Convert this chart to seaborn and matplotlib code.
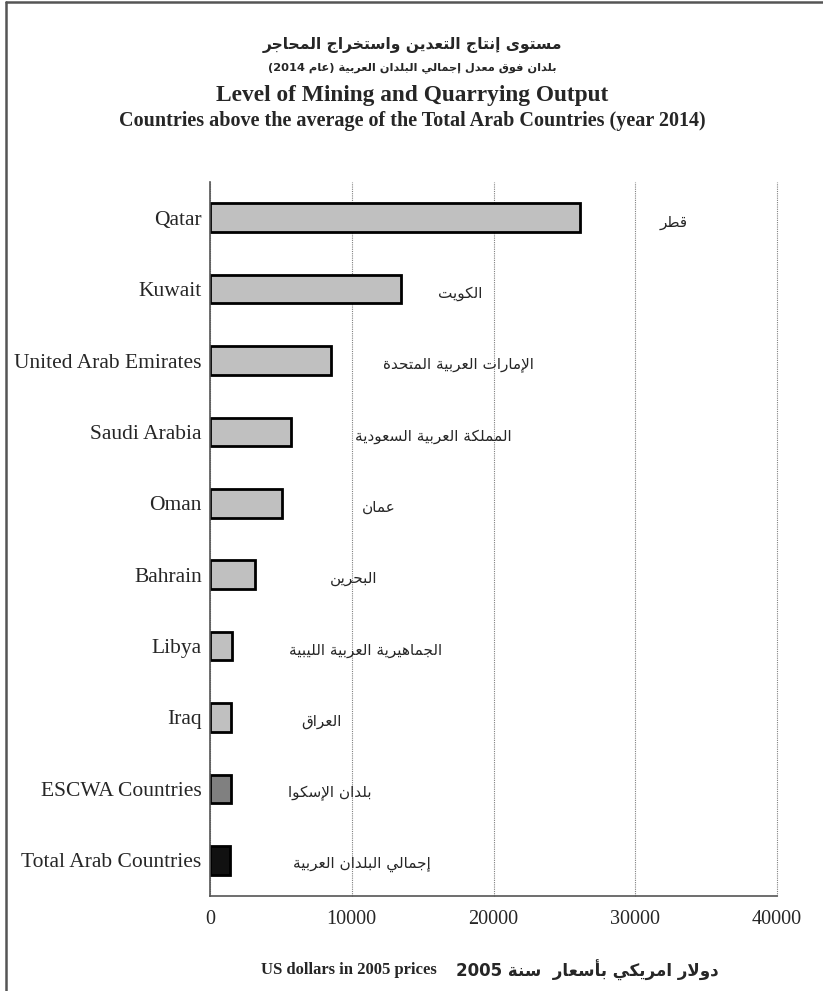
import re
import matplotlib
matplotlib.use("Agg")
import matplotlib.pyplot as plt
from matplotlib.lines import Line2D
import seaborn as sns

# data
countries = ["Qatar", "Kuwait", "United Arab Emirates", "Saudi Arabia", "Oman",
             "Bahrain", "Libya", "Iraq", "ESCWA Countries", "Total Arab Countries"]
countries_ar = ["قطر", "الكويت", "الإمارات العربية المتحدة", "المملكة العربية السعودية",
                "عمان", "البحرين", "الجماهيرية العربية الليبية", "العراق",
                "بلدان الإسكوا", "إجمالي البلدان العربية"]
output = [26100, 13500, 8500, 5700, 5050, 3150, 1550, 1500, 1490, 1400]
bar_colors = ["#C0C0C0"] * 8 + ["#808080", "#111111"]
x_ticks = [0, 10000, 20000, 30000, 40000]

# where the arabic names sit (data x units)
label_x = [32700, 17640, 17500, 15730, 11920, 10160, 11000, 7830, 8470, 10720]

# ---- minimal arabic shaping (presentation forms B) ----
FORMS = {
    "ء": (0xFE80,), "آ": (0xFE81, 0xFE82), "أ": (0xFE83, 0xFE84), "ؤ": (0xFE85, 0xFE86),
    "إ": (0xFE87, 0xFE88), "ئ": (0xFE89, 0xFE8A, 0xFE8B, 0xFE8C), "ا": (0xFE8D, 0xFE8E),
    "ب": (0xFE8F, 0xFE90, 0xFE91, 0xFE92), "ة": (0xFE93, 0xFE94),
    "ت": (0xFE95, 0xFE96, 0xFE97, 0xFE98), "ث": (0xFE99, 0xFE9A, 0xFE9B, 0xFE9C),
    "ج": (0xFE9D, 0xFE9E, 0xFE9F, 0xFEA0), "ح": (0xFEA1, 0xFEA2, 0xFEA3, 0xFEA4),
    "خ": (0xFEA5, 0xFEA6, 0xFEA7, 0xFEA8), "د": (0xFEA9, 0xFEAA), "ذ": (0xFEAB, 0xFEAC),
    "ر": (0xFEAD, 0xFEAE), "ز": (0xFEAF, 0xFEB0), "س": (0xFEB1, 0xFEB2, 0xFEB3, 0xFEB4),
    "ش": (0xFEB5, 0xFEB6, 0xFEB7, 0xFEB8), "ص": (0xFEB9, 0xFEBA, 0xFEBB, 0xFEBC),
    "ض": (0xFEBD, 0xFEBE, 0xFEBF, 0xFEC0), "ط": (0xFEC1, 0xFEC2, 0xFEC3, 0xFEC4),
    "ظ": (0xFEC5, 0xFEC6, 0xFEC7, 0xFEC8), "ع": (0xFEC9, 0xFECA, 0xFECB, 0xFECC),
    "غ": (0xFECD, 0xFECE, 0xFECF, 0xFED0), "ف": (0xFED1, 0xFED2, 0xFED3, 0xFED4),
    "ق": (0xFED5, 0xFED6, 0xFED7, 0xFED8), "ك": (0xFED9, 0xFEDA, 0xFEDB, 0xFEDC),
    "ل": (0xFEDD, 0xFEDE, 0xFEDF, 0xFEE0), "م": (0xFEE1, 0xFEE2, 0xFEE3, 0xFEE4),
    "ن": (0xFEE5, 0xFEE6, 0xFEE7, 0xFEE8), "ه": (0xFEE9, 0xFEEA, 0xFEEB, 0xFEEC),
    "و": (0xFEED, 0xFEEE), "ى": (0xFEEF, 0xFEF0), "ي": (0xFEF1, 0xFEF2, 0xFEF3, 0xFEF4),
}
LAM_ALEF = {"آ": (0xFEF5, 0xFEF6), "أ": (0xFEF7, 0xFEF8), "إ": (0xFEF9, 0xFEFA), "ا": (0xFEFB, 0xFEFC)}
MIRROR = {"(": ")", ")": "("}


def shape(text):
    # merge lam + alef first
    units = []
    i = 0
    while i < len(text):
        c = text[i]
        if c == "ل" and i + 1 < len(text) and text[i + 1] in LAM_ALEF:
            units.append(("LA", text[i + 1]))
            i += 2
        else:
            units.append(("C", c))
            i += 1

    def dual(u):
        return u[0] == "C" and u[1] in FORMS and len(FORMS[u[1]]) == 4

    def arabic(u):
        return u[0] == "LA" or u[1] in FORMS

    out = []
    for k, u in enumerate(units):
        prev_j = k > 0 and dual(units[k - 1])
        next_j = k + 1 < len(units) and arabic(units[k + 1])
        if u[0] == "LA":
            f = LAM_ALEF[u[1]]
            out.append(chr(f[1] if prev_j else f[0]))
        elif u[1] in FORMS:
            f = FORMS[u[1]]
            if len(f) == 4:
                if prev_j and next_j:
                    out.append(chr(f[3]))
                elif prev_j:
                    out.append(chr(f[1]))
                elif next_j:
                    out.append(chr(f[2]))
                else:
                    out.append(chr(f[0]))
            elif len(f) == 2:
                out.append(chr(f[1] if prev_j else f[0]))
            else:
                out.append(chr(f[0]))
        else:
            out.append(u[1])
    s = "".join(out)
    # visual order: reverse, keep digit/latin runs
    toks = re.findall(r"[0-9A-Za-z]+|.", s)
    return "".join(MIRROR.get(t, t) for t in reversed(toks))


# ---- plot ----
sns.set_style("white")
plt.rcParams["font.family"] = ["Liberation Serif", "DejaVu Sans"]

fig = plt.figure(figsize=(8.23, 9.91), dpi=100)
ax = fig.add_axes([0.2552, 0.0959, 0.6889, 0.7204])

sns.barplot(x=output, y=countries, hue=countries, palette=bar_colors, legend=False,
            orient="h", width=0.4, edgecolor="black", linewidth=2, saturation=1, ax=ax)

ax.set_xlim(0, 40000)
ax.set_ylim(9.5, -0.5)
ax.set_xticks(x_ticks)
ax.set_xticklabels([str(t) for t in x_ticks])
ax.set_xlabel("")
ax.set_ylabel("")
ax.set_axisbelow(True)
ax.xaxis.grid(True, linestyle=(0, (1, 1)), color="#808080", linewidth=0.8)
ax.yaxis.grid(False)
for gl in ax.get_xgridlines():
    gl.set_clip_on(False)

for side in ["top", "right"]:
    ax.spines[side].set_visible(False)
for side in ["left", "bottom"]:
    ax.spines[side].set_color("#555555")
    ax.spines[side].set_linewidth(1.2)

ax.tick_params(axis="x", length=4, color="#555555", direction="out", pad=6, labelsize=14.5)
ax.tick_params(axis="y", length=0, pad=6, labelsize=15.5)

for i, name in enumerate(countries_ar):
    ax.text(label_x[i], i + 0.06, shape(name), ha="center", va="center",
            fontsize=11, family="DejaVu Sans")

# titles
fig.text(0.5006, 0.9546, shape("مستوى إنتاج التعدين واستخراج المحاجر"), ha="center", va="center",
         fontsize=11.2, fontweight="bold", family="DejaVu Sans")
fig.text(0.5006, 0.9314, shape("بلدان فوق معدل إجمالي البلدان العربية (عام 2014)"), ha="center",
         va="center", fontsize=8.2, fontweight="bold", family="DejaVu Sans")
fig.text(0.5006, 0.9041, "Level of Mining and Quarrying Output", ha="center", va="center",
         fontsize=16.8, fontweight="bold", family="Liberation Serif")
fig.text(0.5006, 0.8779, "Countries above the average of the Total Arab Countries (year 2014)",
         ha="center", va="center", fontsize=14.5, fontweight="bold", family="Liberation Serif")

# bottom unit label
fig.text(0.531, 0.0212, "US dollars in 2005 prices", ha="right", va="center",
         fontsize=12, fontweight="bold", family="Liberation Serif")
fig.text(0.554, 0.0212, shape("دولار امريكي بأسعار  سنة 2005"), ha="left", va="center",
         fontsize=12, fontweight="bold", family="DejaVu Sans")

# frame of the chart area (top and left edges visible)
fig.add_artist(Line2D([6 / 823, 1.0], [1 - 2 / 991, 1 - 2 / 991], transform=fig.transFigure,
                      color="#555555", linewidth=1.8))
fig.add_artist(Line2D([6 / 823, 6 / 823], [0.0, 1 - 2 / 991], transform=fig.transFigure,
                      color="#555555", linewidth=1.8))

fig.savefig("out.png", dpi=100)
